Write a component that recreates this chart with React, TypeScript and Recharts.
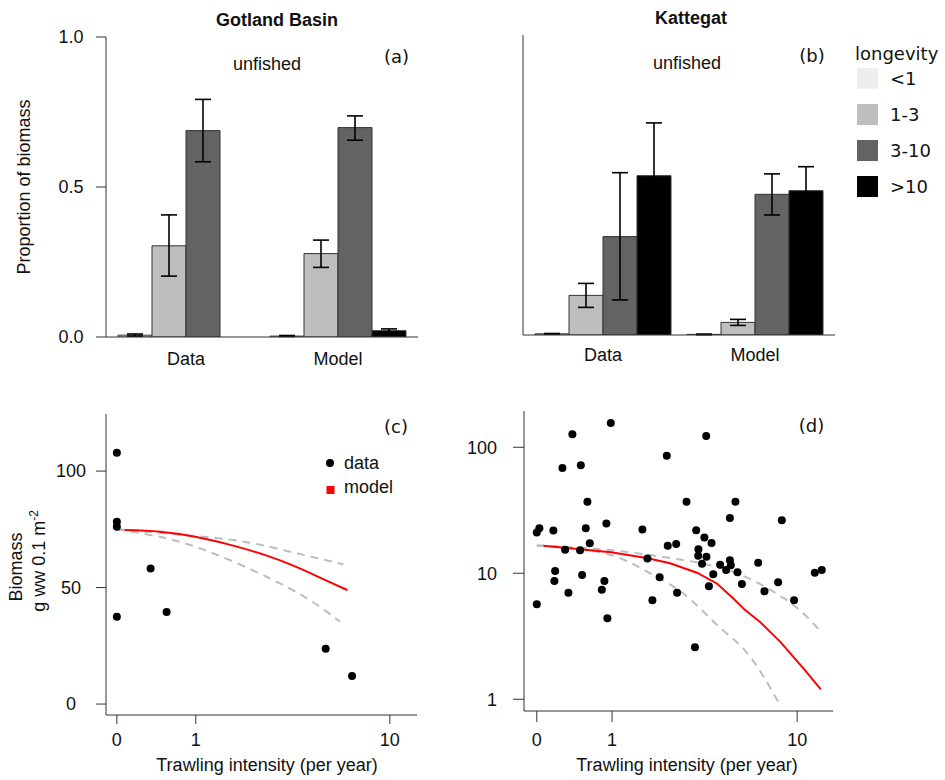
import React from 'react';
import { BarChart, Bar, ErrorBar, XAxis, YAxis, ComposedChart, Scatter, Line, Legend } from 'recharts';

const SANS = '"Liberation Sans", Arial, Helvetica, sans-serif';
const VERD = '"DejaVu Sans", Verdana, sans-serif';
const BOX = '#333333';
const INK = '#111111';

// ---------- (a) / (b) proportion of biomass by longevity class ----------
const categories = ['Data', 'Model'];
const longevityClasses = ['<1', '1-3', '3-10', '>10'];
const longevityColors = ['#eeeeee', '#bebebe', '#636363', '#000000'];
const proportionTicks = [0, 0.5, 1];

// rows: longevity class, columns: [Data, Model]
const gotlandMean = [[0.006, 0.003], [0.304, 0.278], [0.688, 0.698], [0, 0.021]];
const gotlandLow = [[0.003, 0.002], [0.203, 0.232], [0.584, 0.656], [0, 0.015]];
const gotlandHigh = [[0.01, 0.005], [0.407, 0.323], [0.792, 0.737], [0, 0.027]];

const kattegatMean = [[0.004, 0.002], [0.132, 0.042], [0.328, 0.469], [0.531, 0.481]];
const kattegatLow = [[0.003, 0.001], [0.092, 0.032], [0.117, 0.4], [0.355, 0.4]];
const kattegatHigh = [[0.005, 0.003], [0.172, 0.052], [0.541, 0.537], [0.707, 0.561]];

// ---------- (c) Gotland Basin biomass vs trawling ----------
const intensityTicks = [0, 1, 10];
const gotlandBiomassTicks = [0, 50, 100];
const gotlandIntensity = [0, 0, 0, 0, 0.345, 0.548, 5.26, 6.89];
const gotlandBiomass = [107.9, 78.2, 76.1, 37.5, 58.2, 39.5, 23.7, 12.0];
const gotlandModelIntensity = [0.07, 0.46, 1.01, 1.78, 2.73, 3.71, 4.95, 6.57];
const gotlandModel = [74.7, 74.0, 71.7, 68.0, 63.7, 59.4, 54.3, 48.9];
const gotlandUpperIntensity = [0, 0.548, 1.78, 3.31, 6.31];
const gotlandUpper = [75, 73.2, 70.4, 66.1, 60.0];
const gotlandLowerIntensity = [0, 0.548, 1.33, 2.73, 4.45, 6.1];
const gotlandLower = [75, 71.1, 64.7, 54.6, 44.6, 35.3];

// ---------- (d) Kattegat biomass vs trawling ----------
const kattegatBiomassTicks = [1, 10, 100];
const kattegatIntensity = [
  0, 0.024, 0, 0.165, 0.266, 0.388, 0.5, 0.594, 0.57, 0.629, 0.298, 0.49, 0.184, 0.176, 0.338, 0.518,
  0.977, 0.898, 0.864, 0.82, 0.916, 1.645, 1.77, 2.1, 1.9, 2.31, 2.34, 2.61, 2.64, 2.97,
  3.34, 3.43, 3.42, 3.76, 3.68, 3.77, 3.58, 3.29, 4.0, 4.08, 3.88, 4.41, 4.72, 4.92, 4.92, 4.97,
  5.23, 5.35, 5.61, 6.68, 7.14, 8.23, 8.55, 9.69, 11.94, 12.8,
];
const kattegatBiomass = [
  21.1, 22.8, 5.68, 21.8, 68.5, 126.8, 72, 37, 22.8, 17.3, 15.4, 15.2, 10.4, 8.7, 7.0, 9.7,
  156, 24.8, 8.7, 7.4, 4.4, 22.3, 13.1, 9.3, 6.1, 85.7, 16.5, 17.1, 7.0, 37,
  21.9, 15.5, 13.8, 123, 19.2, 13.5, 11.9, 2.59, 17.4, 9.8, 7.9, 11.7, 10.6, 27.5, 12.7, 11.6,
  37, 10.2, 8.2, 12.1, 7.2, 8.5, 26.3, 6.1, 10.1, 10.6,
];
const kattegatModelIntensity = [0.063, 0.98, 1.75, 2.41, 3.37, 4.25, 5.11, 5.81, 6.82, 8.4, 10.65, 12.68];
const kattegatModel = [16.5, 14.7, 13.2, 12.0, 10.1, 8.3, 6.3, 5.1, 4.1, 2.87, 1.76, 1.2];
const kattegatUpperIntensity = [0, 0.96, 2.41, 3.64, 5.31, 7.58, 10.65, 12.68];
const kattegatUpper = [16.6, 15.3, 13.2, 11.9, 10, 7.4, 4.8, 3.45];
const kattegatLowerIntensity = [0, 0.965, 1.84, 2.86, 4.25, 6.13, 8.4];
const kattegatLower = [16.6, 14.0, 10, 6.9, 3.9, 2.18, 0.9];

const pointLegend = ['data', 'model'];

function buildBarRows(mean: number[][], low: number[][], high: number[][]) {
  return categories.map((cat, ci) => {
    const row: Record<string, any> = { cat };
    longevityClasses.forEach((_, k) => {
      const m = mean[k][ci];
      row[`s${k}`] = m;
      row[`e${k}`] = [m - low[k][ci], high[k][ci] - m];
    });
    return row;
  });
}

const zip = (ts: number[], vs: number[]) => ts.map((t, i) => ({ t, v: vs[i] }));

const gotlandRows = buildBarRows(gotlandMean, gotlandLow, gotlandHigh);
const kattegatRows = buildBarRows(kattegatMean, kattegatLow, kattegatHigh);

const tickStyle = { fontSize: 18, fill: INK, fontFamily: SANS };

function renderBars() {
  return longevityClasses.map((name, k) => (
    <Bar
      key={name}
      dataKey={`s${k}`}
      name={name}
      fill={longevityColors[k]}
      stroke={BOX}
      strokeWidth={1}
      isAnimationActive={false}
    >
      <ErrorBar dataKey={`e${k}`} width={8} strokeWidth={1.6} stroke="#000" />
    </Bar>
  ));
}

const LongevityLegend = () => (
  <svg width={95} height={175} style={{ display: 'block' }}>
    <text x={5} y={25} fontFamily={VERD} fontSize={18} fill={INK}>longevity</text>
    {longevityClasses.map((c, i) => (
      <g key={c}>
        <rect x={7} y={33 + i * 36} width={21} height={21} fill={longevityColors[i]} />
        <text x={40} y={50 + i * 36} fontFamily={VERD} fontSize={18} fill={INK}>{c}</text>
      </g>
    ))}
  </svg>
);

const PointLegend = () => (
  <svg width={100} height={60} style={{ display: 'block' }}>
    <circle cx={12} cy={18} r={4} fill="#000" />
    <text x={26} y={24} fontFamily={SANS} fontSize={18} fill={INK}>{pointLegend[0]}</text>
    <rect x={8.5} y={41} width={8} height={8} fill="#ff0000" />
    <text x={26} y={48} fontFamily={SANS} fontSize={18} fill={INK}>{pointLegend[1]}</text>
  </svg>
);

const dotShape = (p: any) => <circle cx={p.cx} cy={p.cy} r={4} fill="#000" />;

const abs = (left: number, top: number): React.CSSProperties => ({ position: 'absolute', left, top });

export default function App() {
  return (
    <div style={{ position: 'absolute', left: 0, top: 0, width: 945, height: 780, background: '#fff', fontFamily: SANS }}>
      {/* (a) Gotland Basin proportions */}
      <div style={abs(0, 0)}>
        <BarChart
          width={470}
          height={390}
          data={gotlandRows}
          margin={{ top: 37, right: 52, bottom: 0, left: 0 }}
          barCategoryGap={8}
          barGap={0}
        >
          <XAxis dataKey="cat" height={53} tickLine={false} tickSize={0} tickMargin={15} axisLine={{ stroke: BOX }} padding={{ left: 4, right: 4 }} tick={tickStyle} interval={0} />
          <XAxis xAxisId="top" dataKey="cat" orientation="top" height={0} tick={false} tickLine={false} axisLine={{ stroke: BOX }} />
          <YAxis type="number" domain={[0, 1]} ticks={proportionTicks} width={106} tickSize={10} tickMargin={25} tick={{ ...tickStyle, textAnchor: 'middle' }} tickFormatter={(v: number) => v.toFixed(1)} axisLine={{ stroke: BOX }} tickLine={{ stroke: BOX }} allowDataOverflow />
          <YAxis yAxisId="right" orientation="right" type="number" width={0} domain={[0, 1]} tick={false} tickLine={false} axisLine={{ stroke: BOX }} />
          {renderBars()}
        </BarChart>
      </div>

      {/* (b) Kattegat proportions */}
      <div style={abs(470, 0)}>
        <BarChart
          width={475}
          height={390}
          data={kattegatRows}
          margin={{ top: 35, right: 110, bottom: 0, left: 0 }}
          barCategoryGap={8}
          barGap={0}
        >
          <XAxis dataKey="cat" height={55} tickLine={false} tickSize={0} tickMargin={13} axisLine={{ stroke: BOX }} padding={{ left: 4, right: 4 }} tick={tickStyle} interval={0} />
          <XAxis xAxisId="top" dataKey="cat" orientation="top" height={0} tick={false} tickLine={false} axisLine={{ stroke: BOX }} />
          <YAxis type="number" domain={[0, 1]} ticks={proportionTicks} width={53} tickSize={11} tick={false} axisLine={{ stroke: BOX }} tickLine={{ stroke: BOX }} allowDataOverflow />
          <YAxis yAxisId="right" orientation="right" type="number" width={0} domain={[0, 1]} tick={false} tickLine={false} axisLine={{ stroke: BOX }} />
          {renderBars()}
          <Legend layout="vertical" align="center" verticalAlign="middle" wrapperStyle={{ left: 380, top: 35, width: 95, height: 175 }} content={() => <LongevityLegend />} />
        </BarChart>
      </div>

      {/* (c) Gotland Basin biomass */}
      <div style={abs(0, 390)}>
        <ComposedChart width={470} height={390} margin={{ top: 24, right: 53, bottom: 0, left: 0 }}>
          <XAxis dataKey="t" type="number" scale="symlog" domain={[-0.1, 12.96]} allowDataOverflow ticks={intensityTicks} height={65} tickSize={9} tickMargin={9} tick={tickStyle} axisLine={{ stroke: BOX }} tickLine={{ stroke: BOX }} interval={0} />
          <XAxis xAxisId="top" orientation="top" type="number" domain={[0, 1]} height={0} tick={false} tickLine={false} axisLine={{ stroke: BOX }} />
          <YAxis dataKey="v" type="number" domain={[-4.7, 124.5]} allowDataOverflow ticks={gotlandBiomassTicks} width={106} tickSize={10} tickMargin={25} tick={{ ...tickStyle, textAnchor: 'middle' }} axisLine={{ stroke: BOX }} tickLine={{ stroke: BOX }} interval={0} />
          <YAxis yAxisId="right" orientation="right" type="number" width={0} domain={[0, 1]} tick={false} tickLine={false} axisLine={{ stroke: BOX }} />
          <Line data={zip(gotlandUpperIntensity, gotlandUpper)} dataKey="v" type="natural" stroke="#bdbdbd" strokeWidth={2} strokeDasharray="8 6" dot={false} activeDot={false} legendType="none" isAnimationActive={false} />
          <Line data={zip(gotlandLowerIntensity, gotlandLower)} dataKey="v" type="natural" stroke="#bdbdbd" strokeWidth={2} strokeDasharray="8 6" dot={false} activeDot={false} legendType="none" isAnimationActive={false} />
          <Line data={zip(gotlandModelIntensity, gotlandModel)} dataKey="v" name="model" type="natural" stroke="#ff0000" strokeWidth={2} dot={false} activeDot={false} isAnimationActive={false} />
          <Scatter data={zip(gotlandIntensity, gotlandBiomass)} dataKey="v" name="data" fill="#000" shape={dotShape} isAnimationActive={false} />
          <Legend layout="vertical" align="center" verticalAlign="middle" wrapperStyle={{ left: 318, top: 55, width: 100, height: 60 }} content={() => <PointLegend />} />
        </ComposedChart>
      </div>

      {/* (d) Kattegat biomass */}
      <div style={abs(440, 390)}>
        <ComposedChart width={505} height={390} margin={{ top: 21, right: 112, bottom: 0, left: 0 }}>
          <XAxis dataKey="t" type="number" scale="symlog" domain={[-0.125, 14.3]} allowDataOverflow ticks={intensityTicks} height={69} tickSize={11} tickMargin={11} tick={tickStyle} axisLine={{ stroke: BOX }} tickLine={{ stroke: BOX }} interval={0} />
          <XAxis xAxisId="top" orientation="top" type="number" domain={[0, 1]} height={0} tick={false} tickLine={false} axisLine={{ stroke: '#555' }} />
          <YAxis dataKey="v" type="number" scale="log" domain={[0.807, 194]} allowDataOverflow ticks={kattegatBiomassTicks} width={84} tickSize={11} tickMargin={16} tick={tickStyle} axisLine={{ stroke: BOX }} tickLine={{ stroke: BOX }} interval={0} />
          <YAxis yAxisId="right" orientation="right" type="number" width={0} domain={[0, 1]} tick={false} tickLine={false} axisLine={{ stroke: '#555' }} />
          <Line data={zip(kattegatUpperIntensity, kattegatUpper)} dataKey="v" type="monotone" stroke="#bdbdbd" strokeWidth={2} strokeDasharray="8 6" dot={false} activeDot={false} legendType="none" isAnimationActive={false} />
          <Line data={zip(kattegatLowerIntensity, kattegatLower)} dataKey="v" type="monotone" stroke="#bdbdbd" strokeWidth={2} strokeDasharray="8 6" dot={false} activeDot={false} legendType="none" isAnimationActive={false} />
          <Scatter data={zip(kattegatIntensity, kattegatBiomass)} dataKey="v" name="data" fill="#000" shape={dotShape} isAnimationActive={false} />
          <Line data={zip(kattegatModelIntensity, kattegatModel)} dataKey="v" name="model" type="linear" stroke="#ff0000" strokeWidth={2} dot={false} activeDot={false} isAnimationActive={false} />
        </ComposedChart>
      </div>

      {/* titles, annotations and axis titles */}
      <svg width={945} height={780} style={{ position: 'absolute', left: 0, top: 0, pointerEvents: 'none' }}>
        <g fontFamily={SANS} fontSize={18} fill={INK} textAnchor="middle">
          <text x={277} y={26} fontWeight="bold">Gotland Basin</text>
          <text x={691} y={24} fontWeight="bold">Kattegat</text>
          <text x={267} y={70}>unfished</text>
          <text x={687} y={69}>unfished</text>
          <text transform="translate(30,187) rotate(-90)">Proportion of biomass</text>
          <text transform="translate(22,567) rotate(-90)">Biomass</text>
          <text transform="translate(45,561) rotate(-90)">
            g ww 0.1 m<tspan dy={-7} fontSize={12}>-2</tspan>
          </text>
          <text x={267} y={771}>Trawling intensity (per year)</text>
          <text x={687} y={771}>Trawling intensity (per year)</text>
        </g>
        <g fontFamily={VERD} fontSize={18} fill={INK} textAnchor="middle">
          <text x={396.5} y={63}>(a)</text>
          <text x={812} y={62}>(b)</text>
          <text x={396} y={433}>(c)</text>
          <text x={811.5} y={432}>(d)</text>
        </g>
      </svg>
    </div>
  );
}
